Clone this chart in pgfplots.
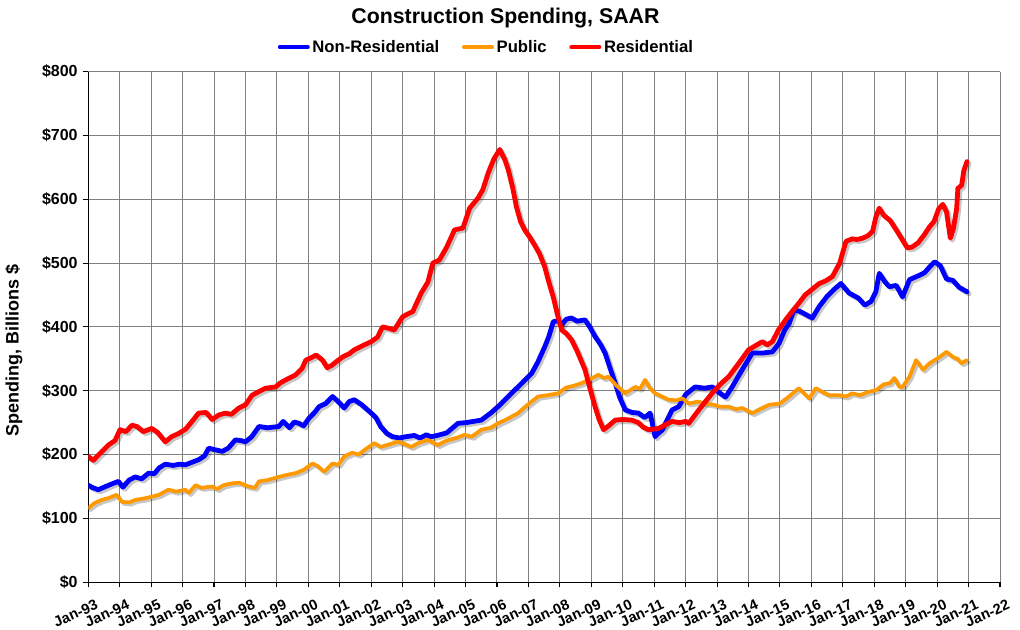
\documentclass[border=0pt]{standalone}
\usepackage{fontspec}
\setmainfont{Liberation Sans}
\usepackage{pgfplots}
\usepackage{pgfplotstable}
\pgfplotsset{compat=1.18}

\definecolor{cblue}{RGB}{0,0,255}
\definecolor{corange}{RGB}{255,153,0}
\definecolor{cred}{RGB}{255,0,0}
\definecolor{cgrid}{RGB}{128,128,128}

\pgfplotstableread{
x y
1993.00 152
1993.15 148
1993.32 145
1993.55 150
1993.80 155
1993.96 158
1994.10 149
1994.30 160
1994.49 165
1994.70 162
1994.92 171
1995.10 170
1995.25 179
1995.45 185
1995.70 183
1995.90 185
1996.09 184
1996.30 188
1996.51 192
1996.70 198
1996.83 210
1997.00 208
1997.26 205
1997.45 210
1997.68 223
1997.85 222
1998.00 220
1998.20 228
1998.43 244
1998.70 242
1999.06 244
1999.20 252
1999.40 242
1999.55 251
1999.70 249
1999.85 245
2000.02 257
2000.20 266
2000.34 275
2000.55 280
2000.77 291
2000.95 283
2001.14 273
2001.30 283
2001.46 286
2001.70 278
2002.00 265
2002.15 258
2002.30 244
2002.50 233
2002.68 228
2002.90 226
2003.10 228
2003.37 230
2003.55 226
2003.75 231
2003.90 228
2004.10 230
2004.40 234
2004.76 249
2005.00 250
2005.25 252
2005.50 254
2005.80 265
2006.03 275
2006.30 288
2006.50 298
2006.67 306
2006.85 315
2007.10 327
2007.30 345
2007.52 369
2007.65 385
2007.79 408
2007.95 410
2008.06 403
2008.20 412
2008.37 414
2008.55 409
2008.80 411
2008.95 400
2009.12 385
2009.30 372
2009.44 359
2009.60 335
2009.76 312
2009.90 290
2010.08 270
2010.30 266
2010.50 265
2010.70 258
2010.87 265
2011.03 228
2011.10 232
2011.25 238
2011.46 259
2011.57 270
2011.78 275
2012.00 294
2012.15 300
2012.30 306
2012.60 304
2012.85 306
2013.10 296
2013.27 290
2013.48 306
2013.80 333
2014.12 359
2014.44 359
2014.76 361
2014.97 374
2015.15 395
2015.29 405
2015.45 427
2015.65 424
2015.80 420
2016.03 414
2016.25 432
2016.50 448
2016.75 460
2016.94 468
2017.20 453
2017.50 445
2017.70 434
2017.90 440
2018.05 455
2018.16 484
2018.35 470
2018.48 463
2018.70 465
2018.90 447
2019.12 474
2019.44 481
2019.60 485
2019.76 494
2019.92 502
2020.10 496
2020.30 475
2020.50 473
2020.70 462
2020.95 455
}\nonres

\pgfplotstableread{
x y
1993.00 116
1993.20 124
1993.43 129
1993.65 132
1993.90 137
1994.07 126
1994.30 125
1994.49 129
1994.75 131
1995.02 134
1995.25 137
1995.55 145
1995.80 142
1996.09 145
1996.20 140
1996.41 152
1996.60 148
1996.94 150
1997.10 146
1997.30 152
1997.58 155
1997.80 156
1998.10 150
1998.30 148
1998.43 158
1998.70 160
1999.06 165
1999.30 168
1999.60 171
1999.85 176
2000.13 186
2000.30 182
2000.50 173
2000.77 186
2000.95 184
2001.14 197
2001.40 203
2001.60 200
2001.78 207
2002.10 218
2002.30 212
2002.50 215
2002.84 220
2003.05 217
2003.27 212
2003.50 218
2003.80 223
2004.12 215
2004.40 222
2004.70 226
2004.97 231
2005.20 228
2005.50 239
2005.80 242
2006.03 249
2006.30 255
2006.67 265
2006.90 275
2007.10 283
2007.31 291
2007.60 293
2007.95 296
2008.20 305
2008.45 308
2008.70 312
2008.95 318
2009.23 325
2009.40 320
2009.55 322
2009.80 308
2010.08 296
2010.40 306
2010.55 303
2010.71 317
2010.85 305
2011.03 296
2011.25 291
2011.46 286
2011.70 285
2011.90 288
2012.10 280
2012.40 283
2012.63 280
2012.90 278
2013.10 275
2013.38 275
2013.60 271
2013.80 273
2014.12 265
2014.40 272
2014.65 278
2015.00 280
2015.29 291
2015.60 304
2015.93 288
2016.14 304
2016.40 297
2016.57 293
2016.90 293
2017.10 291
2017.30 296
2017.55 293
2017.80 298
2018.06 301
2018.30 310
2018.50 312
2018.64 320
2018.80 306
2018.90 306
2019.12 322
2019.33 348
2019.55 333
2019.76 343
2020.08 353
2020.30 361
2020.50 353
2020.65 350
2020.77 343
2020.95 348
}\public

\pgfplotstableread{
x y
1993.00 197
1993.16 191
1993.40 203
1993.64 215
1993.85 222
1994.01 239
1994.20 236
1994.39 246
1994.55 244
1994.75 236
1995.02 241
1995.20 235
1995.45 220
1995.65 228
1995.87 233
1996.10 240
1996.30 252
1996.51 265
1996.75 266
1996.94 255
1997.15 262
1997.36 265
1997.55 263
1997.79 273
1998.00 278
1998.21 293
1998.40 298
1998.64 304
1998.96 306
1999.10 312
1999.28 317
1999.60 325
1999.80 335
1999.92 348
2000.10 352
2000.25 356
2000.45 348
2000.60 336
2000.75 340
2000.90 346
2001.09 353
2001.30 358
2001.46 364
2001.70 370
2002.00 377
2002.20 384
2002.36 400
2002.55 398
2002.73 395
2003.00 416
2003.15 420
2003.32 424
2003.59 453
2003.80 470
2003.96 500
2004.17 505
2004.40 525
2004.65 552
2004.92 555
2005.13 586
2005.40 602
2005.55 615
2005.72 641
2005.90 663
2006.09 678
2006.25 662
2006.36 646
2006.50 618
2006.62 588
2006.75 565
2006.88 552
2007.05 540
2007.20 528
2007.35 515
2007.52 494
2007.65 470
2007.79 447
2007.92 420
2008.06 395
2008.20 390
2008.37 380
2008.55 362
2008.80 333
2008.95 305
2009.12 275
2009.25 255
2009.39 239
2009.55 245
2009.76 254
2010.00 255
2010.29 254
2010.50 250
2010.65 243
2010.82 239
2011.00 240
2011.14 241
2011.40 248
2011.57 252
2011.80 250
2012.00 252
2012.10 249
2012.42 270
2012.84 296
2013.10 310
2013.37 322
2013.69 343
2014.00 364
2014.20 370
2014.44 377
2014.60 372
2014.76 377
2014.95 395
2015.18 411
2015.40 425
2015.60 437
2015.80 450
2016.00 458
2016.25 468
2016.45 472
2016.67 479
2016.90 500
2017.10 534
2017.30 538
2017.45 537
2017.63 539
2017.80 543
2017.95 550
2018.05 572
2018.16 586
2018.30 575
2018.50 567
2018.70 552
2018.90 536
2019.05 524
2019.20 525
2019.40 532
2019.60 545
2019.76 557
2019.90 565
2020.05 585
2020.18 592
2020.30 580
2020.42 539
2020.52 555
2020.62 585
2020.66 617
2020.78 622
2020.85 645
2020.95 659
}\resid

\begin{document}
\begin{tikzpicture}
\path[use as bounding box] (0pt,0pt) rectangle (765pt,472.5pt);
\node[font=\bfseries\fontsize{16}{19}\selectfont, inner sep=0pt] at (379.1pt,459pt) {Construction Spending, SAAR};
\begin{axis}[
  at={(66.2pt,35.8pt)}, anchor=south west,
  scale only axis, width=683.8pt, height=383pt,
  xmin=1993, xmax=2022, ymin=0, ymax=800,
  axis lines*=left,
  axis line style={black, line width=0.9pt, -},
  grid=major,
  major grid style={cgrid, line width=0.75pt},
  tick align=outside,
  major tick length=3.8pt,
  tick style={black, line width=0.8pt},
  xtick={1993,1994,1995,1996,1997,1998,1999,2000,2001,2002,2003,2004,2005,2006,2007,2008,2009,2010,2011,2012,2013,2014,2015,2016,2017,2018,2019,2020,2021,2022},
  xticklabels={Jan-93,Jan-94,Jan-95,Jan-96,Jan-97,Jan-98,Jan-99,Jan-00,Jan-01,Jan-02,Jan-03,Jan-04,Jan-05,Jan-06,Jan-07,Jan-08,Jan-09,Jan-10,Jan-11,Jan-12,Jan-13,Jan-14,Jan-15,Jan-16,Jan-17,Jan-18,Jan-19,Jan-20,Jan-21,Jan-22},
  ytick={0,100,200,300,400,500,600,700,800},
  yticklabels={\$0,\$100,\$200,\$300,\$400,\$500,\$600,\$700,\$800},
  xticklabel style={rotate=24, anchor=north east, font=\bfseries\fontsize{11}{12}\selectfont, inner sep=0pt, xshift=1pt, yshift=-10pt},
  yticklabel style={font=\bfseries\fontsize{12}{14}\selectfont, inner sep=1pt, xshift=-3pt},
  ylabel={Spending, Billions \$},
  ylabel style={font=\bfseries\fontsize{13.5}{15}\selectfont, at={(axis description cs:-0.0815,0.453)}, anchor=center, rotate=0},
  legend columns=3,
  legend style={at={(0.437,1.048)}, anchor=center, draw=none, fill=none,
    font=\bfseries\fontsize{12.5}{14}\selectfont,
    /tikz/every even column/.append style={column sep=15pt},
    inner sep=0pt},
  legend image code/.code={\draw[#1, line width=3pt, line cap=round] (0pt,0pt) -- (21pt,0pt);},
  legend cell align=left,
  every axis plot/.append style={line join=round, line cap=round},
]
\addplot[black, opacity=0.22, line width=3.6pt, xshift=1.6pt, yshift=-1.6pt, forget plot] table {\nonres};
\addplot[black, opacity=0.22, line width=2.8pt, xshift=1.6pt, yshift=-1.6pt, forget plot] table {\public};
\addplot[black, opacity=0.22, line width=3.6pt, xshift=1.6pt, yshift=-1.6pt, forget plot] table {\resid};
\addplot[cblue, line width=3.6pt] table {\nonres};
\addlegendentry{Non-Residential}
\addplot[corange, line width=2.8pt] table {\public};
\addlegendentry{Public}
\addplot[cred, line width=3.6pt] table {\resid};
\addlegendentry{Residential}
\end{axis}
\end{tikzpicture}
\end{document}
